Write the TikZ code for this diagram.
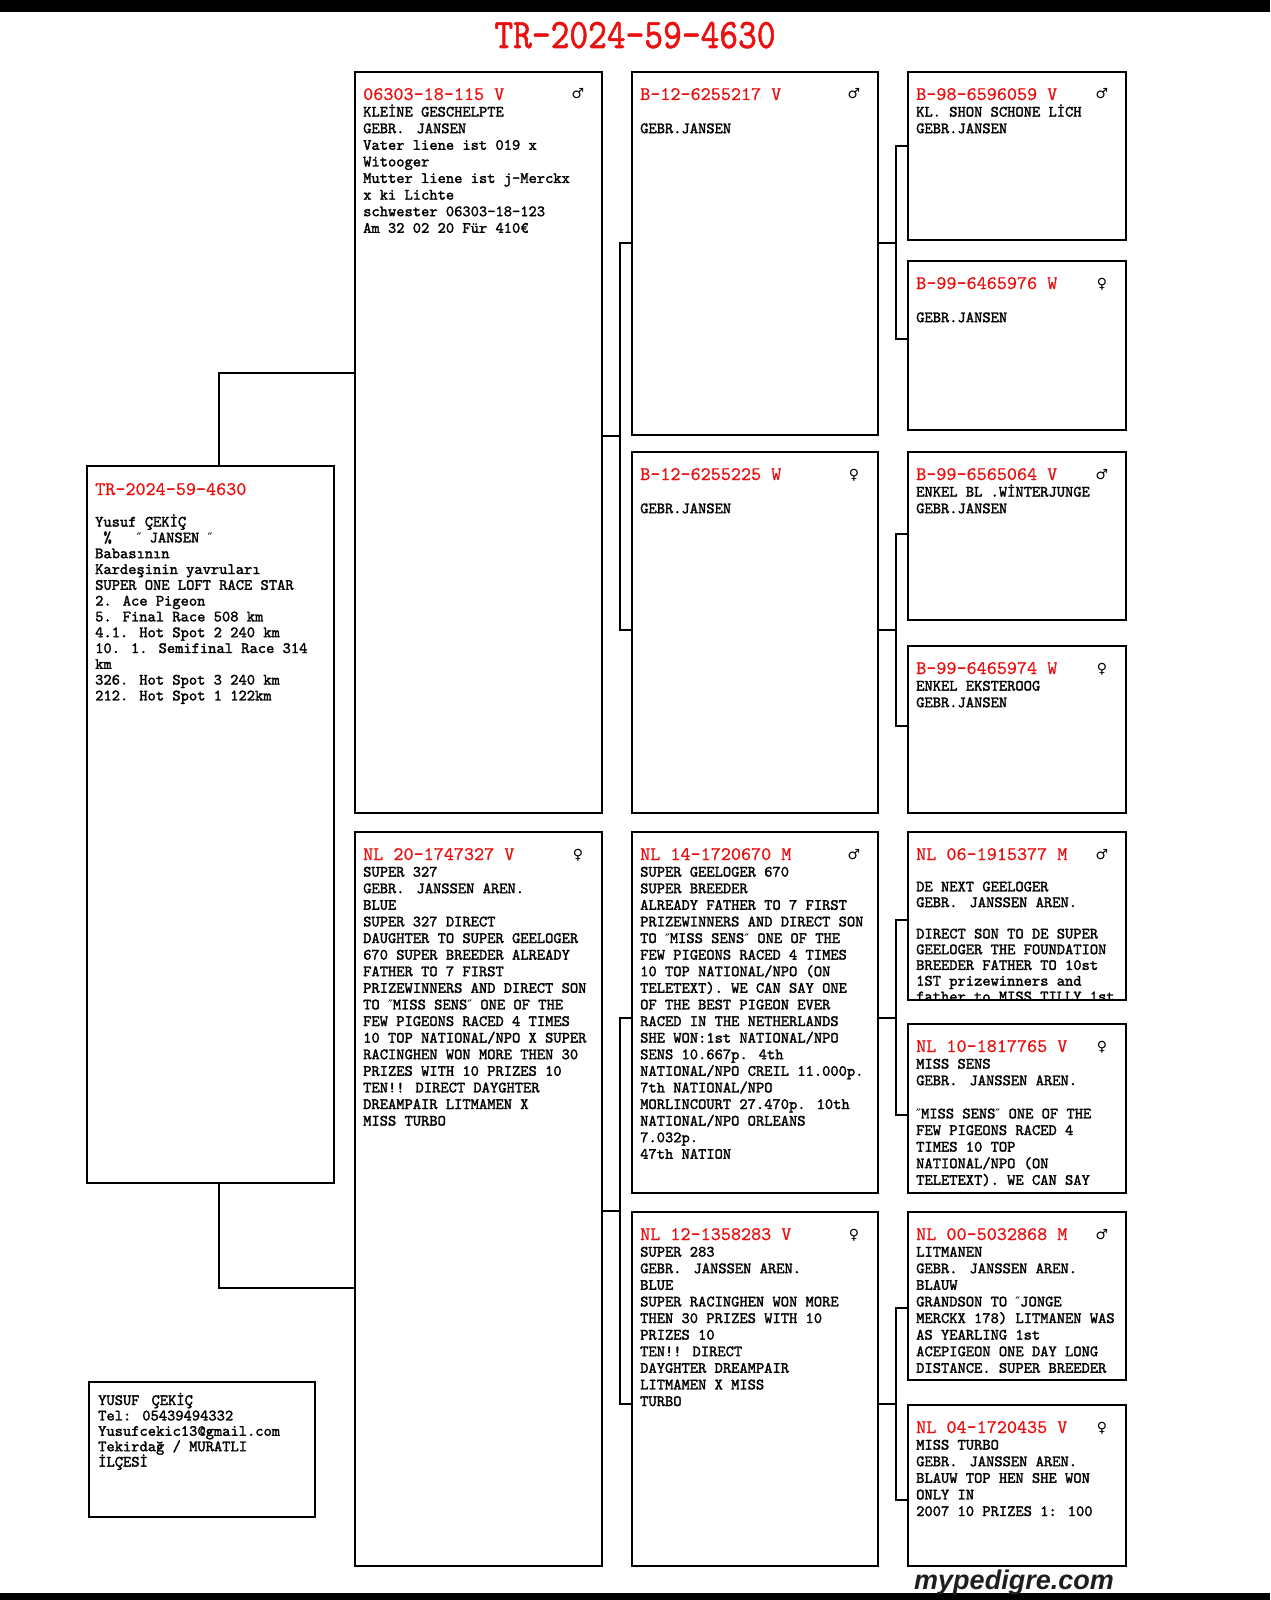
\documentclass[tikz,border=0pt]{standalone}
\usepackage{fontspec}
\newfontfamily\symf{DejaVu Sans}
\newfontfamily\logof{Liberation Sans}
\newfontfamily\bodyf[FakeBold=1.8]{lmmono10-regular.otf}
\newfontfamily\hdrf[FakeBold=0.6]{lmmono10-regular.otf}
\newfontfamily\titlef[FakeStretch=0.85,FakeBold=1.2]{lmmono10-regular.otf}
\definecolor{pedred}{RGB}{235,16,16}
\definecolor{logogray}{RGB}{30,30,30}
\newcommand\blines[1]{\vtop{\lineskiplimit=-1000pt\halign{##\hfil\cr#1\crcr}}}
\newcommand\gap{\hspace{12pt}}
\newcommand\dq{{\symf\fontsize{13}{13}\selectfont ″}}
\tikzset{
  pbox/.style={draw, line width=2pt, anchor=north west, inner sep=0pt, outer sep=0pt},
  conn/.style={line width=1.6pt},
  hdr/.style={anchor=base west, inner sep=0pt, text=pedred, font=\hdrf\fontsize{19.2}{20}\selectfont},
  sym/.style={anchor=base, inner sep=0pt, font=\symf\fontsize{14}{14}\selectfont},
  body/.style={anchor=base west, inner sep=0pt, font=\bodyf},
}
\newcommand\pedbox[9]{%
  \node[pbox, minimum width=#4-#2, minimum height=#5-#3] (#1) at (#2,#3) {};
  \begin{scope}
    \clip (#1.north west) rectangle (#1.south east);
    \node[hdr] (#1h) at (#2+8,#3+28) {#6};
    \node[sym] (#1s) at (#4-24,#3+27) {#7};
    \node[body] (#1t) at (#2+8,#3+28+#8) {\fontsize{15.75}{#8}\selectfont\blines{#9}};
  \end{scope}}
\begin{document}
\begin{tikzpicture}[x=1pt,y=-1pt]
\useasboundingbox (0,0) rectangle (1270,1600);
\fill[white] (0,0) rectangle (1270,1600);
\fill[black] (0,0) rectangle (1270,12);
\fill[black] (0,1593) rectangle (1270,1600);

\node[anchor=base, inner sep=0pt, text=pedred, font=\titlef\fontsize{42}{44}\selectfont] (title) at (635,48) {TR-2024-59-4630};

% generation 1
\node[pbox, minimum width=247, minimum height=717] (main) at (87,466) {};
\node[hdr] (mainh) at (95,495) {TR-2024-59-4630};
\node[body] (maint) at (95,526.6) {\fontsize{15.75}{15.8}\selectfont\blines{%
Yusuf ÇEKİÇ\cr
~\%~~~\dq{} JANSEN \dq\cr
Babasının\cr
Kardeşinin yavruları\cr
SUPER ONE LOFT RACE STAR\cr
2. Ace Pigeon\cr
5. Final Race 508 km\cr
4.1. Hot Spot 2 240 km\cr
10. 1. Semifinal Race 314\cr
km\cr
326. Hot Spot 3 240 km\cr
212. Hot Spot 1 122km}};

\node[pbox, minimum width=226, minimum height=135] (contact) at (89,1382) {};
\node[body] (contactt) at (98,1405) {\fontsize{15.75}{15.4}\selectfont\blines{%
YUSUF\gap ÇEKİÇ\cr
Tel: 05439494332\cr
Yusufcekic13@gmail.com\cr
Tekirdağ / MURATLI\cr
İLÇESİ}};

% generation 2
\pedbox{c2a}{355}{72}{602}{813}{06303-18-115 V}{♂}{16.6}{%
KLEİNE GESCHELPTE\cr
GEBR.\gap JANSEN\cr
Vater liene ist 019 x\cr
Witooger\cr
Mutter liene ist j-Merckx\cr
x ki Lichte\cr
schwester 06303-18-123\cr
Am 32 02 20 Für 410€}

\pedbox{c2b}{355}{832}{602}{1566}{NL 20-1747327 V}{♀}{16.6}{%
SUPER 327\cr
GEBR.\gap JANSSEN AREN.\cr
BLUE\cr
SUPER 327 DIRECT\cr
DAUGHTER TO SUPER GEELOGER\cr
670 SUPER BREEDER ALREADY\cr
FATHER TO 7 FIRST\cr
PRIZEWINNERS AND DIRECT SON\cr
TO \dq MISS SENS\dq{} ONE OF THE\cr
FEW PIGEONS RACED 4 TIMES\cr
10 TOP NATIONAL/NPO X SUPER\cr
RACINGHEN WON MORE THEN 30\cr
PRIZES WITH 10 PRIZES 10\cr
TEN!! DIRECT DAYGHTER\cr
DREAMPAIR LITMAMEN X\cr
MISS TURBO}

% generation 3
\pedbox{c3a}{632}{72}{878}{435}{B-12-6255217 V}{♂}{16.6}{{}\cr GEBR.JANSEN}
\pedbox{c3b}{632}{452}{878}{813}{B-12-6255225 W}{♀}{16.6}{{}\cr GEBR.JANSEN}
\pedbox{c3c}{632}{832}{878}{1193}{NL 14-1720670 M}{♂}{16.6}{%
SUPER GEELOGER 670\cr
SUPER BREEDER\cr
ALREADY FATHER TO 7 FIRST\cr
PRIZEWINNERS AND DIRECT SON\cr
TO \dq MISS SENS\dq{} ONE OF THE\cr
FEW PIGEONS RACED 4 TIMES\cr
10 TOP NATIONAL/NPO (ON\cr
TELETEXT). WE CAN SAY ONE\cr
OF THE BEST PIGEON EVER\cr
RACED IN THE NETHERLANDS\cr
SHE WON:1st NATIONAL/NPO\cr
SENS 10.667p. 4th\cr
NATIONAL/NPO CREIL 11.000p.\cr
7th NATIONAL/NPO\cr
MORLINCOURT 27.470p. 10th\cr
NATIONAL/NPO ORLEANS\cr
7.032p.\cr
47th NATION}
\pedbox{c3d}{632}{1212}{878}{1566}{NL 12-1358283 V}{♀}{16.6}{%
SUPER 283\cr
GEBR.\gap JANSSEN AREN.\cr
BLUE\cr
SUPER RACINGHEN WON MORE\cr
THEN 30 PRIZES WITH 10\cr
PRIZES 10\cr
TEN!! DIRECT\cr
DAYGHTER DREAMPAIR\cr
LITMAMEN X MISS\cr
TURBO}

% generation 4
\pedbox{c4a}{908}{72}{1126}{240}{B-98-6596059 V}{♂}{16.6}{%
KL. SHON SCHONE LİCH\cr
GEBR.JANSEN}
\pedbox{c4b}{908}{261}{1126}{430}{B-99-6465976 W}{♀}{16.6}{{}\cr GEBR.JANSEN}
\pedbox{c4c}{908}{452}{1126}{620}{B-99-6565064 V}{♂}{16.6}{%
ENKEL BL .WİNTERJUNGE\cr
GEBR.JANSEN}
\pedbox{c4d}{908}{646}{1126}{813}{B-99-6465974 W}{♀}{16.6}{%
ENKEL EKSTEROOG\cr
GEBR.JANSEN}
\pedbox{c4e}{908}{832}{1126}{1000}{NL 06-1915377 M}{♂}{15.7}{%
{}\cr
DE NEXT GEELOGER\cr
GEBR.\gap JANSSEN AREN.\cr
{}\cr
DIRECT SON TO DE SUPER\cr
GEELOGER THE FOUNDATION\cr
BREEDER FATHER TO 10st\cr
1ST prizewinners and\cr
father to MISS TILLY 1st}
\pedbox{c4f}{908}{1024}{1126}{1193}{NL 10-1817765 V}{♀}{16.6}{%
MISS SENS\cr
GEBR.\gap JANSSEN AREN.\cr
{}\cr
\dq MISS SENS\dq{} ONE OF THE\cr
FEW PIGEONS RACED 4\cr
TIMES 10 TOP\cr
NATIONAL/NPO (ON\cr
TELETEXT). WE CAN SAY}
\pedbox{c4g}{908}{1212}{1126}{1380}{NL 00-5032868 M}{♂}{16.6}{%
LITMANEN\cr
GEBR.\gap JANSSEN AREN.\cr
BLAUW\cr
GRANDSON TO \dq JONGE\cr
MERCKX 178) LITMANEN WAS\cr
AS YEARLING 1st\cr
ACEPIGEON ONE DAY LONG\cr
DISTANCE. SUPER BREEDER}
\pedbox{c4h}{908}{1405}{1126}{1566}{NL 04-1720435 V}{♀}{16.6}{%
MISS TURBO\cr
GEBR.\gap JANSSEN AREN.\cr
BLAUW TOP HEN SHE WON\cr
ONLY IN\cr
2007 10 PRIZES 1: 100}

% junctions
\coordinate (j2a) at (620,436);
\coordinate (j2b) at (620,1211);
\coordinate (j3a) at (896,243);
\coordinate (j3b) at (896,630);
\coordinate (j3c) at (896,1018);
\coordinate (j3d) at (896,1404);

% connectors
\draw[conn] (main.north -| 219,0) |- (c2a.west |- 0,373);
\draw[conn] (main.south -| 219,0) |- (c2b.west |- 0,1288);
\draw[conn] (c2a.east |- j2a) -- (j2a);
\draw[conn] (c3a.west |- 0,243) -| (j2a) |- (c3b.west |- 0,630);
\draw[conn] (c2b.east |- j2b) -- (j2b);
\draw[conn] (c3c.west |- 0,1018) -| (j2b) |- (c3d.west |- 0,1404);
\draw[conn] (c3a.east |- j3a) -- (j3a);
\draw[conn] (c4a.west |- 0,146) -| (j3a) |- (c4b.west |- 0,339);
\draw[conn] (c3b.east |- j3b) -- (j3b);
\draw[conn] (c4c.west |- 0,534) -| (j3b) |- (c4d.west |- 0,726);
\draw[conn] (c3c.east |- j3c) -- (j3c);
\draw[conn] (c4e.west |- 0,920) -| (j3c) |- (c4f.west |- 0,1115);
\draw[conn] (c3d.east |- j3d) -- (j3d);
\draw[conn] (c4g.west |- 0,1308) -| (j3d) |- (c4h.west |- 0,1500);

\node[anchor=base, inner sep=0pt, text=logogray, font=\logof\bfseries\itshape\fontsize{27}{27}\selectfont] (logo) at (1014,1589) {mypedigre.com};
\end{tikzpicture}
\end{document}
